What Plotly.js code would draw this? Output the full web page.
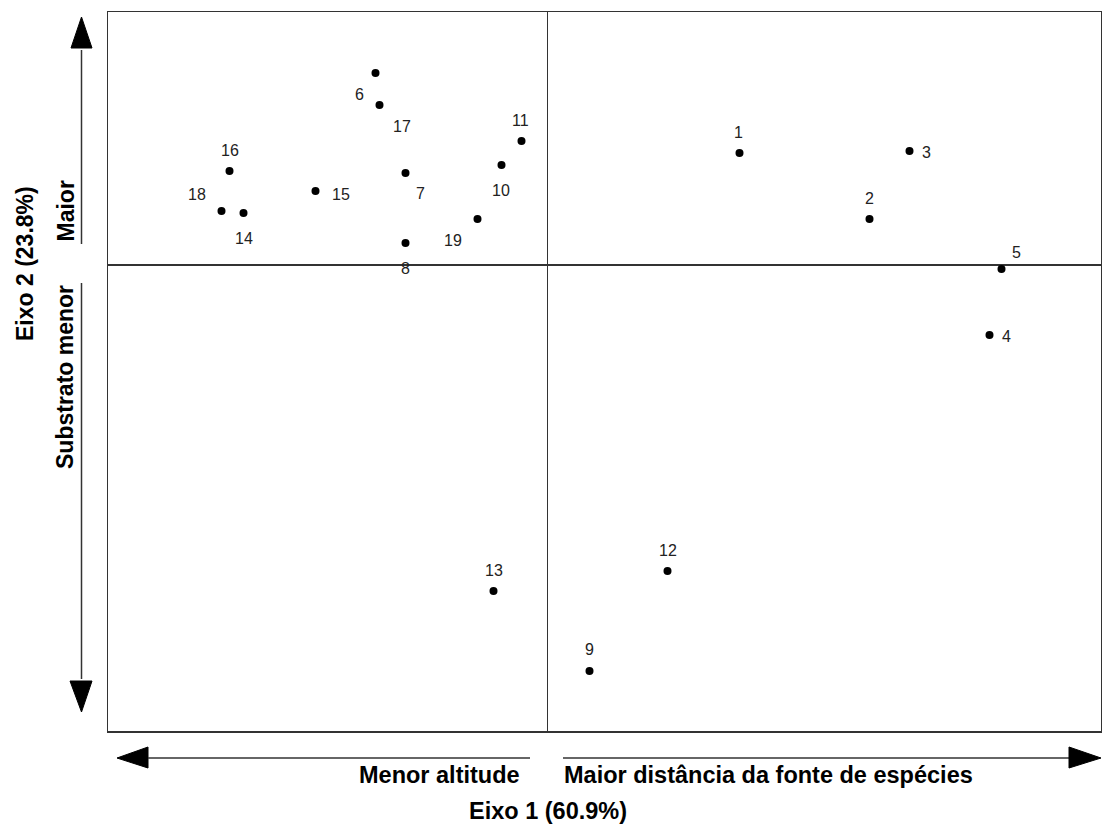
<!DOCTYPE html>
<html>
<head>
<meta charset="utf-8">
<script src="https://cdn.plot.ly/plotly-3.0.1.min.js"></script>
<style>html,body{margin:0;padding:0;background:#fff;}#chart{width:1102px;height:825px;}</style>
</head>
<body>
<div id="chart"></div>
<script>
// ---- data ----
const sites = ['1','2','3','4','5','6','7','8','9','10','11','12','13','14','15','16','17','18','19'];
const eixo1 = [0.96, 1.61, 1.81, 2.21, 2.27, -0.86, -0.71, -0.71, 0.21, -0.23, -0.13, 0.60, -0.27, -1.52, -1.16, -1.59, -0.84, -1.63, -0.35];
const eixo2 = [0.56, 0.23, 0.57, -0.35, -0.02, 0.96, 0.46, 0.11, -2.03, 0.50, 0.62, -1.53, -1.63, 0.26, 0.37, 0.47, 0.80, 0.27, 0.23];
const xTitle = 'Eixo 1 (60.9%)';
const yTitle = 'Eixo 2 (23.8%)';
const xLeftLabel = 'Menor altitude';
const xRightLabel = 'Maior distância da fonte de espécies';
const yTopLabel = 'Maior';
const yBottomLabel = 'Substrato menor';

// ---- layout / style ----
const W = 1102, H = 825;
const M = {l:108, r:1, t:12, b:94};
const PW = W - M.l - M.r, PH = H - M.t - M.b;
const px = v => (v - M.l) / PW;
const py = v => (H - M.b - v) / PH;
// label offsets in pixels [dx right, dy down]
const labelShift = [[-1,-21],[0,-21],[17,1],[17,1],[15,-17],[-16,21],[15,20],[0,25],[0,-22],[-1,25],[-1,-21],[0,-21],[0,-21],[0,25],[25,3],[0,-21],[22,21],[-25,-17],[-25,21]];

const lineCol = '#333';
const shapes = [];
function seg(x0,y0,x1,y1){
  shapes.push({type:'line', xref:'paper', yref:'paper', x0:px(x0), y0:py(y0), x1:px(x1), y1:py(y1), line:{color:lineCol, width:1.5}});
}
function tri(pts){
  const d = 'M ' + pts.map(p => px(p[0]) + ',' + py(p[1])).join(' L ') + ' Z';
  shapes.push({type:'path', xref:'paper', yref:'paper', path:d, fillcolor:'#000', line:{color:'#000', width:1}});
}
// vertical arrow
tri([[81.5,17],[71,48],[92,48]]);
seg(81.5,50,81.5,244);
seg(81.5,283,81.5,679);
tri([[70,681],[92,681],[81.5,712]]);
// horizontal arrow
tri([[117,758],[148,747],[148,768]]);
seg(148,758,530,758);
seg(563,758,1069,758);
tri([[1069,747],[1069,768],[1101,758]]);

const annotations = sites.map((s,i) => ({
  x: eixo1[i], y: eixo2[i], xref:'x', yref:'y', text: s, showarrow:false,
  xshift: labelShift[i][0], yshift: -labelShift[i][1],
  font:{family:'Liberation Sans, Arial, sans-serif', size:16, color:'#222'}
}));
const bold = {family:'Liberation Sans, Arial, sans-serif', size:23.5, color:'#000', weight:'bold'};
const boldV = {family:'Liberation Sans, Arial, sans-serif', size:23, color:'#000', weight:'bold'};
annotations.push(
  {xref:'paper', yref:'paper', x:px(522), y:py(775), xanchor:'right', yanchor:'middle', text:'<b>'+xLeftLabel+'</b>', showarrow:false, font:bold},
  {xref:'paper', yref:'paper', x:px(562), y:py(775), xanchor:'left', yanchor:'middle', text:'<b>'+xRightLabel+'</b>', showarrow:false, font:bold},
  {xref:'paper', yref:'paper', x:px(467), y:py(811), xanchor:'left', yanchor:'middle', text:'<b>'+xTitle+'</b>', showarrow:false, font:bold},
  {xref:'paper', yref:'paper', x:px(25), y:py(264), xanchor:'center', yanchor:'middle', textangle:-90, text:'<b>'+yTitle+'</b>', showarrow:false, font:boldV},
  {xref:'paper', yref:'paper', x:px(65), y:py(244), xanchor:'center', yanchor:'bottom', textangle:-90, text:'<b>'+yTopLabel+'</b>', showarrow:false, font:boldV},
  {xref:'paper', yref:'paper', x:px(65), y:py(283), xanchor:'center', yanchor:'top', textangle:-90, text:'<b>'+yBottomLabel+'</b>', showarrow:false, font:boldV}
);

const trace = {
  x: eixo1, y: eixo2, mode:'markers', type:'scatter',
  marker:{color:'#000', size:8}, hoverinfo:'text', text: sites, cliponaxis:false
};

const axisBase = {showgrid:false, showticklabels:false, ticks:'', showline:true, mirror:true,
  linecolor:'#333', linewidth:1.5, zeroline:true, zerolinecolor:'#333', zerolinewidth:1.5, fixedrange:true};

const layout = {
  width:W, height:H, margin:M, paper_bgcolor:'#fff', plot_bgcolor:'#fff', showlegend:false,
  xaxis: Object.assign({}, axisBase, {range:[-2.1975, 2.7675]}),
  yaxis: Object.assign({}, axisBase, {range:[-2.33, 1.265]}),
  shapes: shapes, annotations: annotations
};
Plotly.newPlot('chart', [trace], layout, {displayModeBar:false, staticPlot:true});
</script>
</body>
</html>
